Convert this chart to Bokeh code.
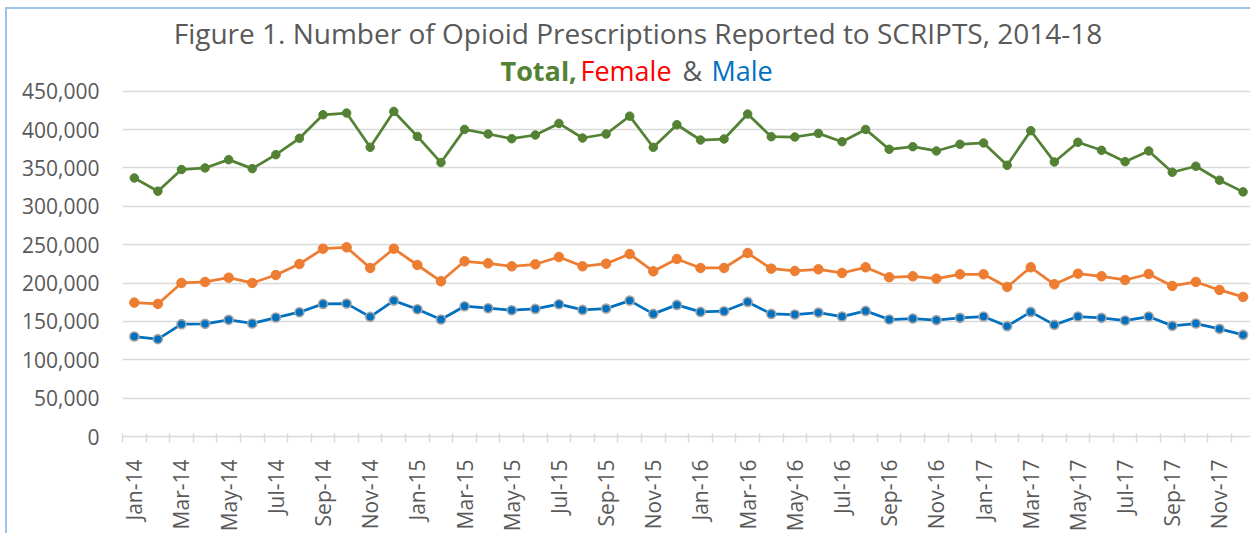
from math import pi
from bokeh.plotting import figure
from bokeh.models import (ColumnDataSource, FixedTicker, NumeralTickFormatter, Label, Range1d)
from bokeh.embed import file_html
from bokeh.resources import INLINE

months = ["Jan-14", "Feb-14", "Mar-14", "Apr-14", "May-14", "Jun-14", "Jul-14", "Aug-14", "Sep-14", "Oct-14", "Nov-14", "Dec-14",
          "Jan-15", "Feb-15", "Mar-15", "Apr-15", "May-15", "Jun-15", "Jul-15", "Aug-15", "Sep-15", "Oct-15", "Nov-15", "Dec-15",
          "Jan-16", "Feb-16", "Mar-16", "Apr-16", "May-16", "Jun-16", "Jul-16", "Aug-16", "Sep-16", "Oct-16", "Nov-16", "Dec-16",
          "Jan-17", "Feb-17", "Mar-17", "Apr-17", "May-17", "Jun-17", "Jul-17", "Aug-17", "Sep-17", "Oct-17", "Nov-17", "Dec-17"]

total = [336900, 319700, 347900, 350000, 360800, 349100, 367300, 388600, 419300, 421500, 376900, 423600,
         391100, 357000, 400200, 394200, 388100, 392900, 408000, 389000, 394200, 417500, 376900, 406300,
         386400, 387700, 420200, 390700, 390300, 395000, 384200, 400200, 374300, 377700, 372100, 380800,
         382500, 353500, 398500, 357800, 383400, 373000, 358200, 372100, 344400, 352200, 334000, 318800]

female = [174500, 172800, 200100, 201400, 207000, 200100, 210500, 224800, 244700, 246500, 219600, 244700,
          223500, 202300, 228300, 225700, 221800, 224400, 233900, 221800, 225200, 237800, 215300, 231300,
          219600, 219600, 239100, 218700, 215700, 217900, 213100, 220500, 207500, 208800, 205700, 211400,
          211400, 194900, 220500, 198400, 212200, 208800, 204000, 211800, 196200, 201400, 191000, 181900]

male = [130300, 126900, 146400, 146800, 152000, 147300, 155000, 162000, 172800, 173200, 155900, 177100,
        165900, 152400, 169800, 167200, 164600, 166300, 172400, 165000, 166700, 177100, 159800, 171500,
        162400, 163300, 175400, 159800, 158900, 161500, 156300, 163700, 152400, 153700, 151700, 154600,
        156300, 143800, 162400, 145500, 156300, 154600, 151100, 156300, 144200, 147200, 140300, 132500]

y_ticks = list(range(0, 450001, 50000))
title_text = "Figure 1. Number of Opioid Prescriptions Reported to SCRIPTS, 2014-18"

x = list(range(len(months)))
src = ColumnDataSource(dict(x=x, month=months, total=total, female=female, male=male))

GRID = "#D9D9D9"
TXT = "#595959"
FONT = "Open Sans"

# layout (canvas pixels)
W, H = 1245, 526
LEFT, BOTTOM = 115, 99
FRAME_W = W - LEFT
FRAME_H = H - BOTTOM
Y_TOP_TICK_PX = 81.7          # canvas y of the 450,000 gridline
X_END = 47.4
y_per_px = 450000 / (FRAME_H - Y_TOP_TICK_PX)
Y_END = FRAME_H * y_per_px
x_per_px = (X_END + 0.5) / FRAME_W


def cx(px):  # canvas x pixel -> data x
    return -0.5 + (px - LEFT) * x_per_px


def cy(py):  # canvas y pixel (from top) -> data y
    return (FRAME_H - py) * y_per_px


p = figure(width=W, height=H, output_backend="svg", toolbar_location=None, tools="", title=None,
           x_range=Range1d(-0.5, X_END), y_range=Range1d(0, Y_END),
           min_border_left=LEFT, min_border_right=0, min_border_top=0, min_border_bottom=BOTTOM)
p.outline_line_color = None
p.background_fill_color = "white"
p.border_fill_color = "white"
p.styles = {"border-left": "2px solid #9DC3E6", "border-top": "2px solid #9DC3E6",
            "margin-left": "5px", "margin-top": "7px"}

# grid
p.xgrid.visible = False
p.ygrid.grid_line_color = GRID
p.ygrid.grid_line_width = 1.3

# y axis
p.yaxis.axis_label = None
p.yaxis.ticker = FixedTicker(ticks=y_ticks)
p.yaxis.formatter = NumeralTickFormatter(format="0,0")
p.yaxis.axis_line_color = None
p.yaxis.major_tick_line_color = None
p.yaxis.minor_tick_line_color = None
p.yaxis.major_tick_in = 0
p.yaxis.major_tick_out = 0
p.yaxis.major_label_text_font = FONT
p.yaxis.major_label_text_font_size = "21px"
p.yaxis.major_label_text_color = TXT
p.yaxis.major_label_standoff = 23

# x axis: labels every other month, tick marks at month boundaries
n = len(months)
bounds = [i - 0.5 for i in range(n + 1)]
label_idx = x[::2]
xa = p.xaxis[0]
xa.axis_label = None
xa.ticker = FixedTicker(ticks=label_idx, minor_ticks=bounds)
xa.major_label_overrides = {i: months[i] for i in label_idx}
xa.axis_line_color = GRID
xa.axis_line_width = 1.5
xa.major_tick_line_color = None
xa.major_tick_in = 0
xa.major_tick_out = 0
xa.minor_tick_line_color = GRID
xa.minor_tick_line_width = 1.5
xa.minor_tick_in = 3
xa.minor_tick_out = 6
xa.major_label_orientation = pi / 2
xa.major_label_standoff = 17
xa.major_label_text_font = FONT
xa.major_label_text_font_size = "21px"
xa.major_label_text_color = TXT

# series
p.line("x", "total", source=src, line_color="#548235", line_width=2.75)
p.scatter("x", "total", source=src, size=8.5, fill_color="#548235", line_color="#548235")

p.line("x", "female", source=src, line_color="#ED7D31", line_width=2.75)
p.scatter("x", "female", source=src, size=9.5, fill_color="#ED7D31", line_color="#ED7D31")

p.line("x", "male", source=src, line_color="#0070C0", line_width=2.75)
p.scatter("x", "male", source=src, size=9, fill_color="#0070C0", line_color="#A5A5A5", line_width=1.6)

# titles (placed inside the upper, tick-free part of the frame)
p.add_layout(Label(x=cx(630.5), y=cy(23.8), text=title_text,
                   text_align="center", text_baseline="alphabetic", text_font=FONT,
                   text_font_size="28px", text_color=TXT))
sub = [("Total,", 493, "#548235", "bold"), ("Female", 573, "#FF0000", "normal"),
       ("&", 675, TXT, "normal"), ("Male", 704, "#0070C0", "normal")]
for t, px, c, st in sub:
    p.add_layout(Label(x=cx(px), y=cy(61), text=t,
                       text_align="left", text_baseline="alphabetic", text_font=FONT,
                       text_font_size="27px", text_font_style=st, text_color=c))

open("out.html", "w").write(file_html(p, INLINE))
